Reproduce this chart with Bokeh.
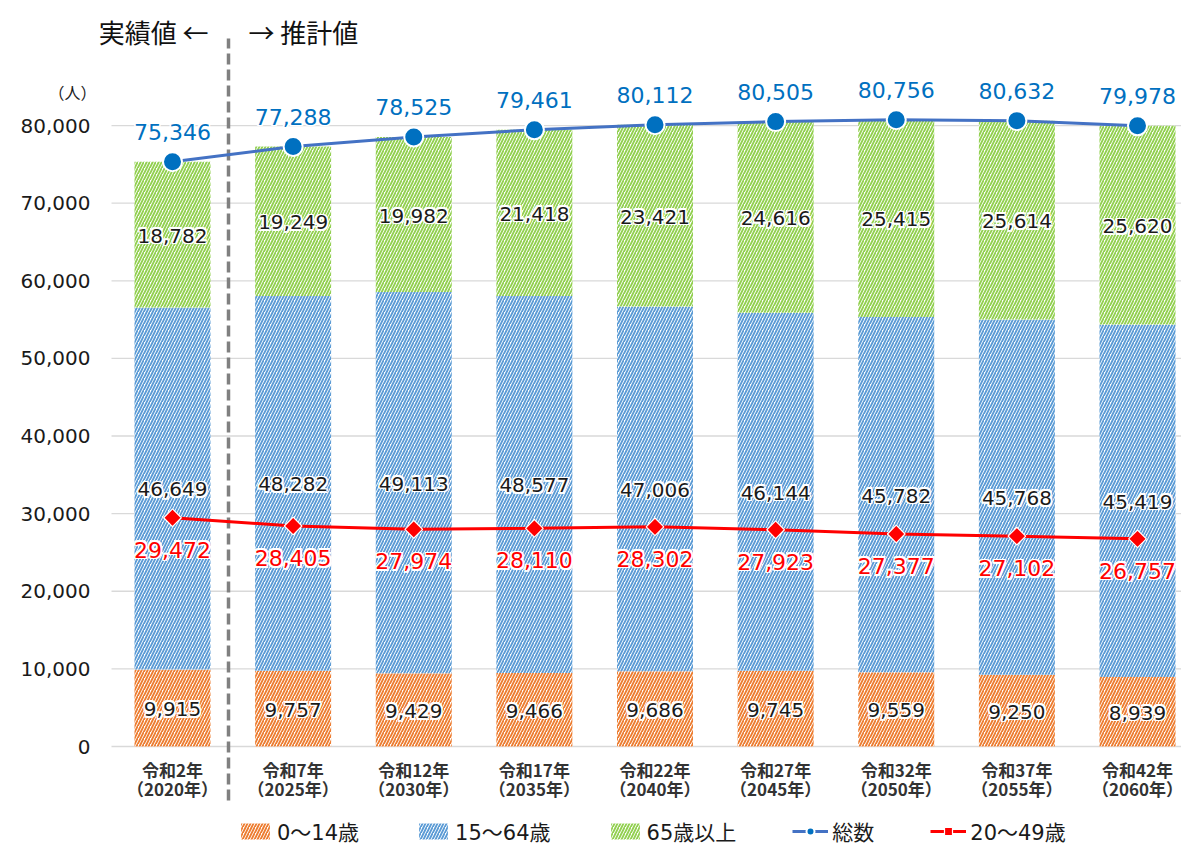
from bokeh.plotting import figure
from bokeh.models import Range1d, Legend, LegendItem
from bokeh.core.properties import value
from bokeh.embed import file_html
from bokeh.resources import INLINE
import numpy as np

# ---- data ----
cat_line1 = ["令和2年", "令和7年", "令和12年", "令和17年", "令和22年", "令和27年", "令和32年", "令和37年", "令和42年"]
cat_line2 = ["（2020年）", "（2025年）", "（2030年）", "（2035年）", "（2040年）", "（2045年）", "（2050年）", "（2055年）", "（2060年）"]
age_0_14 = [9915, 9757, 9429, 9466, 9686, 9745, 9559, 9250, 8939]
age_15_64 = [46649, 48282, 49113, 48577, 47006, 46144, 45782, 45768, 45419]
age_65_plus = [18782, 19249, 19982, 21418, 23421, 24616, 25415, 25614, 25620]
total = [75346, 77288, 78525, 79461, 80112, 80505, 80756, 80632, 79978]
age_20_49 = [29472, 28405, 27974, 28110, 28302, 27923, 27377, 27102, 26757]
y_ticks = [0, 10000, 20000, 30000, 40000, 50000, 60000, 70000, 80000]
unit_label = "（人）"
left_note = "実績値 ←"
right_note = "→ 推計値"

CJK = "Noto Sans CJK JP"
NUM = "DejaVu Sans"
MIX = "DejaVu Sans, Noto Sans CJK JP"
C_ORANGE = "#ED7D31"
C_BLUE = "#5B9BD5"
C_GREEN = "#92D050"
C_TOTAL_LINE = "#4472C4"
C_TOTAL = "#0070C0"
C_RED = "#FF0000"
C_TEXT = "#1a1a1a"

W, H = 1181, 846
# layout: pixel geometry of the plotting area
PX_PER_CAT = 120.625       # px between category centres
X0_PX = 172.0              # px of first category centre
PX_PER_UNIT = 77.62 / 10000  # px per person
Y0_PX = 746.0              # px of value 0


def xd(px):
    return (px - X0_PX) / PX_PER_CAT


def yd(py):
    return (Y0_PX - py) / PX_PER_UNIT


n = len(total)
x = np.arange(n)
fmt = lambda v: f"{v:,}"

p = figure(width=W, height=H, output_backend="svg", toolbar_location=None,
           x_range=Range1d(xd(0), xd(W)), y_range=Range1d(yd(H), yd(0)),
           x_axis_location=None, y_axis_location=None,
           min_border_left=0, min_border_right=0, min_border_top=0, min_border_bottom=0)
p.outline_line_color = None
p.grid.visible = False

# gridlines (drawn from the plot-area left edge)
p.segment(x0=[xd(111)] * len(y_ticks), x1=[xd(W)] * len(y_ticks), y0=y_ticks, y1=y_ticks,
          line_color="#D9D9D9", line_width=1.3)
# y tick labels
p.text(x=[xd(90)] * len(y_ticks), y=y_ticks, text=[fmt(v) for v in y_ticks], text_font=value(NUM),
       text_font_size="20px", text_align="right", text_baseline="middle", text_color=C_TEXT)

# stacked bars
b0 = np.zeros(n)
b1 = b0 + np.array(age_0_14)
b2 = b1 + np.array(age_15_64)
b3 = b2 + np.array(age_65_plus)
bars = []
for bot, top, col in [(b0, b1, C_ORANGE), (b1, b2, C_BLUE), (b2, b3, C_GREEN)]:
    r = p.vbar(x=x, bottom=bot, top=top, width=0.63, fill_color="white", line_color=None,
               hatch_pattern="/", hatch_color=col, hatch_scale=6, hatch_weight=1.9)
    bars.append(r)


def halo_text(xs, ys, texts, color, size, baseline="middle", yoff=0):
    d = 1.6
    for dx, dy in [(-d, 0), (d, 0), (0, -d), (0, d), (-d, -d), (d, d), (-d, d), (d, -d)]:
        p.text(x=xs, y=ys, text=texts, text_font=value(NUM), text_font_size=size,
               text_align="center", text_baseline=baseline, x_offset=dx, y_offset=yoff + dy,
               text_color="white")
    p.text(x=xs, y=ys, text=texts, text_font=value(NUM), text_font_size=size,
           text_align="center", text_baseline=baseline, y_offset=yoff, text_color=color)


# segment labels
seg_vals = age_0_14 + age_15_64 + age_65_plus
seg_y = list((b0 + b1) / 2) + list((b1 + b2) / 2) + list((b2 + b3) / 2)
seg_x = list(x) * 3
halo_text(seg_x, seg_y, [fmt(v) for v in seg_vals], C_TEXT, "20px", yoff=1)

# divider
divider_x = xd(228)
p.segment(x0=[divider_x], y0=[yd(800)], x1=[divider_x], y1=[yd(38)], line_color="#808080",
          line_width=3.5, line_dash="11 5")

# lines
tl = p.line(x, total, line_color=C_TOTAL_LINE, line_width=3)
ts = p.scatter(x, total, marker="circle", size=19, fill_color=C_TOTAL, line_color="white", line_width=2)
rl = p.line(x, age_20_49, line_color=C_RED, line_width=3)
rs = p.scatter(x, age_20_49, marker="square", angle=np.pi / 4, size=12.5, fill_color=C_RED,
               line_color="white", line_width=1.2)

halo_text(list(x), total, [fmt(v) for v in total], C_TOTAL, "22px", yoff=-30)
halo_text(list(x), age_20_49, [fmt(v) for v in age_20_49], C_RED, "22px", yoff=32)

# category labels
p.text(x=x, y=[yd(769)] * n, text=cat_line1, text_font=value(CJK), text_font_size="17px",
       text_font_style="bold", text_align="center", text_baseline="middle", text_color="#333333")
p.text(x=x, y=[yd(788)] * n, text=cat_line2, text_font=value(CJK), text_font_size="17px",
       text_font_style="bold", text_align="center", text_baseline="middle", text_color="#333333")

# top annotations and unit
p.text(x=[xd(208)], y=[yd(31)], text=[left_note], text_font=value(CJK), text_font_size="26px",
       text_align="right", text_baseline="middle", text_color="#111111")
p.text(x=[xd(248)], y=[yd(31)], text=[right_note], text_font=value(CJK), text_font_size="26px",
       text_align="left", text_baseline="middle", text_color="#111111")
p.text(x=[xd(72)], y=[yd(91)], text=[unit_label], text_font=value(CJK), text_font_size="16px",
       text_align="center", text_baseline="middle", text_color=C_TEXT)

legend = Legend(items=[
    LegendItem(label="0～14歳", renderers=[bars[0]]),
    LegendItem(label="15～64歳", renderers=[bars[1]]),
    LegendItem(label="65歳以上", renderers=[bars[2]]),
    LegendItem(label="総数", renderers=[tl, ts]),
    LegendItem(label="20～49歳", renderers=[rl, rs]),
], orientation="horizontal", location=(237, 0), padding=0, margin=0, spacing=56,
    glyph_width=36, glyph_height=20, label_height=20, label_standoff=4, label_text_font=MIX,
    label_text_font_size="21px", label_text_color=C_TEXT, border_line_color=None,
    background_fill_alpha=0)
p.add_layout(legend)

open("out.html", "w").write(file_html(p, INLINE))
